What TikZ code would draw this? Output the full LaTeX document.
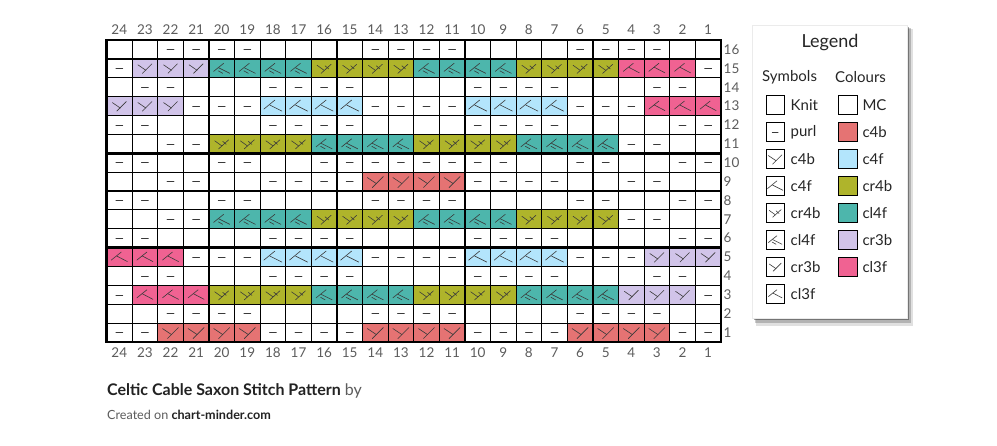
\documentclass[tikz,border=0pt]{standalone}
\usepackage{fontspec}
\setmainfont{Lato}
\definecolor{colK}{HTML}{FFFFFF}
\definecolor{colP}{HTML}{FFFFFF}
\definecolor{colA}{HTML}{E57373}
\definecolor{colB}{HTML}{B3E5FC}
\definecolor{colC}{HTML}{AFB42B}
\definecolor{colD}{HTML}{4DB6AC}
\definecolor{colE}{HTML}{D1C4E9}
\definecolor{colF}{HTML}{F06292}
\definecolor{numgray}{HTML}{5C5C5C}
\definecolor{glyc}{HTML}{3A3A3A}
\definecolor{titlec}{HTML}{222222}
\tikzset{
  gl/.style={draw=glyc, line width=0.6pt, line cap=round},
  numlbl/.style={inner sep=0pt, text=numgray, font=\fontsize{13.5}{14}\selectfont},
  leglbl/.style={inner sep=0pt, anchor=west, text=black!85, font=\fontsize{15}{16}\selectfont},
  thinline/.style={line width=1.1pt, draw=black},
  thickline/.style={line width=2.6pt, draw=black},
}
\newcommand\glyK{}
\newcommand\glyP{\draw[gl] (-3.5,0)--(3.5,0);}
\newcommand\glyA{\draw[gl] (-8,-4)--(1,2); \draw[gl] (-3,6)--(8,-5);}
\newcommand\glyB{\draw[gl] (-9,3)--(2,-6); \draw[gl] (-3,-1)--(9,5);}
\newcommand\glyC{\draw[gl] (-7,-3)--(0,2); \draw[gl] (-3,5)--(7,-4); \draw[gl] (1,-2.5)--(4.5,0.5);}
\newcommand\glyD{\draw[gl] (-8,3)--(2,-5); \draw[gl] (-3,-0.5)--(8,5); \draw[gl] (-3.5,2.5)--(1,5);}
\newcommand\glyE{\draw[gl] (-7,-3.5)--(1,2); \draw[gl] (-2.5,5)--(7,-4.5);}
\newcommand\glyF{\draw[gl] (-8,3)--(2,-5); \draw[gl] (-2.5,-1)--(8,4.5);}
\begin{document}
\begin{tikzpicture}[x=1pt,y=-1pt]
\useasboundingbox[fill=white] (0,0) rectangle (997,446);
% cells
\foreach \r/\row in {
16/{K,K,P,P,P,P,K,K,K,K,P,P,P,P,K,K,K,K,P,P,P,P,K,K},
15/{P,E,E,E,D,D,D,D,C,C,C,C,D,D,D,D,C,C,C,C,F,F,F,P},
14/{K,P,P,K,K,K,P,P,P,P,K,K,K,K,P,P,P,P,K,K,K,P,P,K},
13/{E,E,E,P,P,P,B,B,B,B,P,P,P,P,B,B,B,B,P,P,P,F,F,F},
12/{P,P,K,K,K,K,P,P,P,P,K,K,K,K,P,P,P,P,K,K,K,K,P,P},
11/{K,K,P,P,C,C,C,C,D,D,D,D,C,C,C,C,D,D,D,D,P,P,K,K},
10/{P,P,K,K,P,P,K,K,P,P,P,P,P,P,P,P,K,K,P,P,K,K,P,P},
9/{K,K,P,P,K,K,P,P,P,P,A,A,A,A,P,P,P,P,K,K,P,P,K,K},
8/{P,P,K,K,P,P,K,K,K,K,P,P,P,P,K,K,K,K,P,P,K,K,P,P},
7/{K,K,P,P,D,D,D,D,C,C,C,C,D,D,D,D,C,C,C,C,P,P,K,K},
6/{P,P,K,K,K,K,P,P,P,P,K,K,K,K,P,P,P,P,K,K,K,K,P,P},
5/{F,F,F,P,P,P,B,B,B,B,P,P,P,P,B,B,B,B,P,P,P,E,E,E},
4/{K,P,P,K,K,K,P,P,P,P,K,K,K,K,P,P,P,P,K,K,K,P,P,K},
3/{P,F,F,F,C,C,C,C,D,D,D,D,C,C,C,C,D,D,D,D,E,E,E,P},
2/{K,K,P,P,P,P,K,K,K,K,P,P,P,P,K,K,K,K,P,P,P,P,K,K},
1/{P,P,A,A,A,A,P,P,P,P,A,A,A,A,P,P,P,P,A,A,A,A,P,P}} {
  \foreach \code [count=\i] in \row {
    \pgfmathsetmacro\cx{106.5+(\i-0.5)*25.6}
    \pgfmathsetmacro\cy{40+(16.5-\r)*18.875}
    \fill[fill=col\code] (\cx-12.8,\cy-9.4375) rectangle (\cx+12.8,\cy+9.4375);
    \begin{scope}[shift={(\cx,\cy)}]\csname gly\code\endcsname\end{scope}
  }
}
% grid lines
\foreach \i in {0,...,24} \draw[thinline] (106.5+\i*25.6,40) -- (106.5+\i*25.6,342);
\foreach \j in {0,...,16} \draw[thinline] (106.5,40+\j*18.875) -- (720.9,40+\j*18.875);
\foreach \i in {4,9,14,19} \draw[thickline] (106.5+\i*25.6,40) -- (106.5+\i*25.6,342);
\foreach \j in {1,6,11} \draw[thickline] (106.5,40+\j*18.875) -- (720.9,40+\j*18.875);
\draw[thickline] (106.5,40) rectangle (720.9,342);
% column and row numbers
\foreach \c in {1,...,24} {
  \node[numlbl] (ct\c) at ({106.5+(24.5-\c)*25.6},30) {\c};
  \node[numlbl] (cb\c) at ({106.5+(24.5-\c)*25.6},352.5) {\c};
}
\foreach \r in {1,...,16}
  \node[numlbl, anchor=west] (rl\r) at (723.5,{40+(16.5-\r)*18.875}) {\r};
% legend shadow and box
\fill[black, opacity=0.12] (756,29) rectangle (913,326);
\fill[black, opacity=0.2] (755,28) rectangle (911,323);
\fill[black, opacity=0.35] (754,27) rectangle (909,320.5);
\filldraw[fill=white, draw=black!8, line width=0.5pt] (752,25) rectangle (907,318);
\node[inner sep=0pt, text=black!85, font=\fontsize{18}{19}\selectfont] (legtitle) at (830,43) {Legend};
\node[leglbl] (symh) at (762,77) {Symbols};
\node[leglbl] (colh) at (835,77) {Colours};
\foreach \code/\lab [count=\k from 0] in {K/Knit,P/purl,A/c4b,B/c4f,C/cr4b,D/cl4f,E/cr3b,F/cl3f} {
  \pgfmathsetmacro\ly{105+27*\k}
  \draw[line width=1pt] (766,\ly-9.5) rectangle (784.5,\ly+9.5);
  \begin{scope}[shift={(775.2,\ly)}, scale=0.85]\csname gly\code\endcsname\end{scope}
  \node[leglbl] (sl\k) at (790.5,\ly) {\lab};
}
\foreach \code/\lab [count=\k from 0] in {K/MC,A/c4b,B/c4f,C/cr4b,D/cl4f,E/cr3b,F/cl3f} {
  \pgfmathsetmacro\ly{105+27*\k}
  \filldraw[fill=col\code, draw=black, line width=1pt] (838.5,\ly-9.5) rectangle (857,\ly+9.5);
  \node[leglbl] (cl\k) at (862.3,\ly) {\lab};
}
% titles
\node[anchor=base west, inner sep=0pt, font=\fontsize{16}{17}\selectfont, text=titlec] (title) at (107,395.5) {\textbf{Celtic Cable Saxon Stitch Pattern} \textcolor{numgray}{by}};
\node[anchor=base west, inner sep=0pt, font=\fontsize{12.6}{14}\selectfont, text=numgray] (credit) at (107,419.5) {Created on \textcolor{titlec}{\textbf{chart-minder.com}}};
\end{tikzpicture}
\end{document}
